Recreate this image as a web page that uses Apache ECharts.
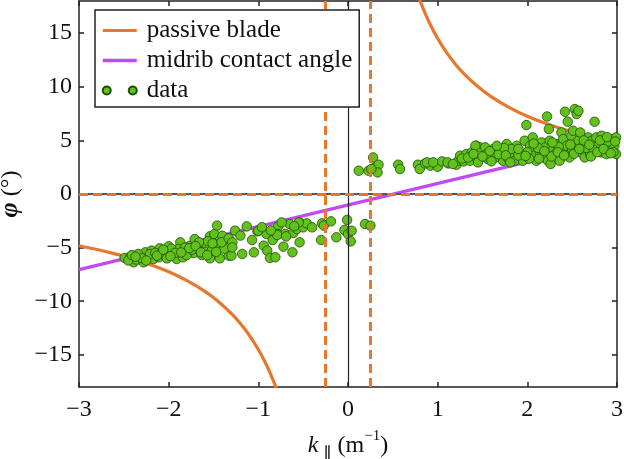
<!DOCTYPE html>
<html>
<head>
<meta charset="utf-8">
<script src="https://cdn.jsdelivr.net/npm/echarts@6/dist/echarts.min.js"></script>
<style>
  html, body { margin: 0; padding: 0; background: #fff; }
  #chart { width: 624px; height: 459px; }
</style>
</head>
<body>
<div id="chart"></div>
<script>
// k_parallel axis ticks and phi ticks
const kTicks = [-3, -2, -1, 0, 1, 2, 3];
const phiTicks = [-15, -10, -5, 0, 5, 10, 15];

// passive blade: two branches
const bladeLower = [
  [-3, -4.83], [-2.8, -5.18], [-2.6, -5.58], [-2.4, -6.04], [-2.2, -6.59],
  [-2.0, -7.25], [-1.8, -8.06], [-1.6, -9.06], [-1.45, -10.0], [-1.3, -11.15],
  [-1.2, -12.08], [-1.1, -13.18], [-1.0, -14.5], [-0.92, -15.76], [-0.85, -17.06],
  [-0.8, -18.1]
];
const bladeUpper = [
  [0.8, 18.1], [0.85, 17.06], [0.92, 15.76], [1.0, 14.5], [1.1, 13.18],
  [1.2, 12.08], [1.3, 11.15], [1.45, 10.0], [1.6, 9.06], [1.8, 8.06],
  [2.0, 7.25], [2.2, 6.59], [2.4, 6.04], [2.6, 5.58], [2.8, 5.18], [3, 4.83]
];
// dashed asymptotes of the passive blade
const bladeAsymptotesK = [-0.25, 0.25];
const bladeAsymptotePhi = 0;

// midrib contact angle (straight line)
const midribLine = [[-3, -7.05], [3, 5.0]];

// measured points
const dataPoints = [
  [-2.49, -5.96], [-2.43, -5.9], [-2.39, -6.37], [-2.36, -6.12], [-2.32, -5.75],
  [-2.28, -6.37], [-2.26, -5.44], [-2.23, -5.9], [-2.19, -5.28], [-2.17, -6.06],
  [-2.1, -5.07], [-2.11, -5.9], [-2.04, -5.75], [-2.0, -4.88], [-1.99, -5.38],
  [-1.95, -5.69], [-1.91, -6.06], [-1.87, -4.51], [-1.89, -5.13], [-1.84, -5.9],
  [-1.79, -5.38], [-1.76, -4.82], [-1.71, -4.2], [-1.72, -5.5], [-1.68, -5.13],
  [-1.63, -5.69], [-1.61, -4.66], [-1.58, -4.98], [-1.54, -3.95], [-1.54, -6.0],
  [-1.5, -4.26], [-1.49, -3.73], [-1.46, -2.95], [-1.43, -6.0], [-1.43, -4.35],
  [-1.48, -4.98], [-1.35, -4.2], [-1.33, -5.75],
  [-2.45, -6.2], [-2.34, -5.6], [-2.3, -6.0], [-2.21, -5.6], [-2.15, -5.5],
  [-2.07, -5.4], [-2.02, -6.0], [-1.97, -5.1], [-1.93, -5.5], [-1.82, -5.0],
  [-1.8, -5.7], [-1.74, -5.2], [-1.66, -4.5], [-1.6, -5.4], [-1.56, -4.4],
  [-1.52, -5.3], [-1.45, -4.7], [-1.4, -3.9], [-1.38, -5.1],
  [-2.41, -5.7], [-2.37, -5.85], [-2.25, -6.2], [-2.13, -5.75], [-2.06, -5.2],
  [-1.98, -5.8], [-1.86, -5.45], [-1.77, -5.05], [-1.7, -4.85], [-1.64, -5.45],
  [-1.57, -5.7], [-1.51, -4.6], [-1.47, -5.4], [-1.41, -4.5],
  [-1.3, -5.75], [-1.18, -5.59], [-1.05, -5.44], [-1.07, -4.29], [-1.01, -3.48],
  [-0.94, -4.82], [-0.9, -5.28], [-0.91, -3.73], [-0.87, -5.96], [-0.81, -5.9],
  [-0.84, -4.29], [-0.78, -3.02], [-0.78, -3.73], [-0.72, -4.91], [-0.7, -3.73],
  [-0.65, -2.8], [-0.62, -5.44], [-0.61, -3.63], [-0.57, -3.26], [-0.54, -4.51],
  [-0.53, -2.7], [-0.5, -3.11], [-0.46, -2.74], [-0.4, -3.11], [-0.3, -4.29],
  [-0.29, -2.74], [-0.27, -2.95], [-0.19, -2.55], [-0.13, -4.04], [-0.04, -3.36],
  [-0.01, -2.42], [0.0, -3.73], [0.04, -3.42], [0.03, -4.42], [0.19, -2.8],
  [0.25, -2.95], [-1.13, -3.02], [-1.26, -3.42], [-1.2, -3.88], [-1.33, -4.14],
  [-1.29, -4.51], [-1.29, -4.98], [-0.74, -2.65], [-0.55, -2.65], [-1.0, -3.42],
  [-0.79, -3.82], [-0.69, -3.95], [-0.96, -3.1], [-0.86, -3.4], [-0.6, -3.0],
  [0.12, 2.17], [0.23, 2.17], [0.28, 3.41], [0.3, 2.48], [0.34, 2.73],
  [0.33, 2.01], [0.26, 2.33], [0.56, 2.73], [0.58, 2.33], [0.78, 2.73],
  [0.8, 2.33], [0.86, 2.85], [0.92, 2.64], [0.99, 2.73], [1.0, 2.54],
  [1.05, 3.04], [1.12, 2.85], [1.21, 2.73], [1.23, 3.1], [1.25, 3.57],
  [1.29, 3.04], [1.32, 3.73], [1.36, 3.1], [1.38, 3.88], [1.4, 3.57],
  [1.45, 3.04], [1.43, 4.5], [0.88, 2.95], [0.95, 2.95], [1.11, 2.95],
  [1.47, 4.35], [1.17, 2.8], [1.27, 3.3], [1.34, 3.4],
  [1.42, 4.5], [1.4, 3.73], [1.45, 2.95], [1.53, 4.35], [1.55, 3.73],
  [1.56, 3.26], [1.62, 4.19], [1.64, 3.41], [1.71, 3.94], [1.73, 3.1],
  [1.77, 4.66], [1.79, 3.26], [1.84, 3.73], [1.86, 3.1], [1.88, 4.5],
  [1.92, 3.88], [1.94, 3.41], [1.95, 3.1], [1.97, 4.97], [1.99, 6.43],
  [2.03, 4.5], [2.05, 4.04], [2.06, 5.28], [2.08, 3.57], [2.1, 3.1],
  [2.14, 3.88], [2.16, 4.81], [2.18, 3.41], [2.2, 4.35], [2.22, 7.23],
  [2.23, 3.1], [2.24, 6.06], [2.25, 4.97], [2.26, 2.8], [2.29, 4.19],
  [2.31, 3.73], [2.33, 4.66], [2.36, 3.1], [2.38, 5.74], [2.4, 5.12],
  [2.42, 7.67], [2.44, 4.04], [2.44, 4.5], [2.45, 6.74], [2.47, 3.41],
  [2.49, 5.43], [2.51, 5.9], [2.53, 7.92], [2.55, 7.46], [2.57, 7.76],
  [2.54, 4.5], [2.57, 4.97], [2.59, 5.74], [2.6, 3.88], [2.62, 4.5],
  [2.64, 3.41], [2.68, 5.28], [2.7, 3.73], [2.72, 4.97], [2.75, 6.74],
  [2.77, 5.28], [2.79, 4.5], [2.82, 3.88], [2.83, 5.43], [2.86, 4.66],
  [2.88, 3.73], [2.92, 5.12], [2.94, 4.19], [2.97, 4.5], [2.99, 3.73],
  [2.99, 5.28],
  [1.58, 4.0], [1.68, 3.7], [1.82, 4.2], [1.9, 3.6], [2.0, 3.9],
  [2.12, 4.3], [2.27, 3.5], [2.35, 4.4], [2.5, 4.2], [2.66, 4.3],
  [2.74, 4.1], [2.9, 4.9], [2.96, 3.9], [1.74, 4.3], [2.02, 3.3],
  [1.5, 3.5], [1.6, 3.05], [1.66, 4.5], [1.76, 3.6], [1.81, 2.95],
  [1.9, 4.2], [1.98, 3.55], [2.07, 4.7], [2.13, 3.3], [2.19, 4.0],
  [2.28, 4.8], [2.34, 3.9], [2.41, 3.6], [2.48, 4.6], [2.52, 3.75],
  [2.58, 4.2], [2.63, 5.0], [2.69, 4.6], [2.71, 3.5], [2.78, 3.9],
  [2.81, 5.0], [2.85, 4.2], [2.89, 5.3], [2.93, 3.8], [2.98, 4.9]
];

const serif = 'Liberation Serif';
const axisColor = '#222';
const orange = '#e8772e';
const purple = '#c04bf2';
const minus = (v) => String(v).replace('-', '\u2212');

const chart = echarts.init(document.getElementById('chart'), null, { renderer: 'canvas' });

const axisLineStyle = { color: axisColor, width: 1.5 };

chart.setOption({
  animation: false,
  backgroundColor: '#fff',
  grid: { left: 79, right: 7, top: 1, bottom: 72, containLabel: false, outerBoundsMode: 'none' },
  legend: {
    orient: 'vertical',
    left: 95,
    top: 10,
    backgroundColor: '#fff',
    borderColor: '#222',
    borderWidth: 1.5,
    borderRadius: 0,
    padding: [8, 7, 4, 6],
    itemWidth: 34,
    itemHeight: 8,
    itemGap: 5,
    z: 10,
    textStyle: { fontFamily: serif, fontSize: 25, color: '#111', padding: [0, 0, 0, 5] },
    data: [
      { name: 'passive blade', itemStyle: { opacity: 0 }, lineStyle: { width: 3, color: orange } },
      { name: 'midrib contact angle', itemStyle: { opacity: 0 }, lineStyle: { width: 3.5, color: purple } },
      {
        name: 'data',
        icon: 'path://M0,4a4,4 0 1,0 8,0a4,4 0 1,0 -8,0M26,4a4,4 0 1,0 8,0a4,4 0 1,0 -8,0'
      }
    ]
  },
  xAxis: [
    {
      type: 'value',
      min: -3,
      max: 3,
      interval: 1,
      axisLine: { onZero: false, lineStyle: axisLineStyle },
      axisTick: { inside: true, length: 5, lineStyle: axisLineStyle },
      splitLine: { show: false },
      axisLabel: {
        margin: 11,
        fontFamily: serif,
        fontSize: 24,
        color: '#111',
        formatter: minus
      },
      name: '{k|k}{sub|\u2225} (m{sup|\u22121})',
      nameLocation: 'middle',
      nameGap: 42,
      nameTextStyle: {
        fontFamily: serif,
        fontSize: 24,
        color: '#111',
        rich: {
          k: { fontFamily: serif, fontSize: 24, fontStyle: 'italic', color: '#111' },
          sub: { fontFamily: serif, fontSize: 18, color: '#111', verticalAlign: 'bottom', lineHeight: 34, padding: [12, 0, 0, 4] },
          sup: { fontFamily: serif, fontSize: 15, color: '#111', verticalAlign: 'top', padding: [0, 0, 10, 0] }
        }
      }
    },
    {
      type: 'value',
      position: 'top',
      min: -3,
      max: 3,
      interval: 1,
      axisLine: { onZero: false, lineStyle: axisLineStyle },
      axisTick: { inside: true, length: 5, lineStyle: axisLineStyle },
      axisLabel: { show: false },
      splitLine: { show: false }
    }
  ],
  yAxis: [
    {
      type: 'value',
      min: -18,
      max: 18,
      axisLine: { onZero: false, lineStyle: axisLineStyle },
      axisTick: { inside: true, length: 5, lineStyle: axisLineStyle, customValues: phiTicks },
      splitLine: { show: false },
      axisLabel: {
        customValues: phiTicks,
        margin: 7,
        fontFamily: serif,
        fontSize: 24,
        color: '#111',
        formatter: minus
      },
      name: '{phi|\u03c6} (\u00b0)',
      nameLocation: 'middle',
      nameRotate: 90,
      nameGap: 52,
      nameTextStyle: {
        fontFamily: serif,
        fontSize: 24,
        color: '#111',
        rich: {
          phi: { fontFamily: serif, fontSize: 26, fontStyle: 'italic', fontWeight: 'bold', color: '#111' }
        }
      }
    },
    {
      type: 'value',
      position: 'right',
      min: -18,
      max: 18,
      axisLine: { onZero: false, lineStyle: axisLineStyle },
      axisTick: { inside: true, length: 5, lineStyle: axisLineStyle, customValues: phiTicks },
      axisLabel: { show: false },
      splitLine: { show: false }
    }
  ],
  series: [
    {
      name: 'zero lines',
      type: 'line',
      data: [],
      z: 1,
      markLine: {
        silent: true,
        symbol: 'none',
        label: { show: false },
        animation: false,
        data: [
          { xAxis: 0, lineStyle: { color: '#222', width: 1.2, type: 'solid' } },
          { yAxis: 0, lineStyle: { color: '#555', width: 2.2, type: 'solid' } }
        ]
      }
    },
    {
      name: 'passive blade',
      type: 'line',
      data: bladeLower,
      symbol: 'none',
      smooth: 0.3,
      lineStyle: { color: orange, width: 3.2 },
      itemStyle: { color: orange },
      z: 2,
      markLine: {
        silent: true,
        symbol: 'none',
        label: { show: false },
        animation: false,
        lineStyle: { color: orange, width: 3, type: [9, 5] },
        data: bladeAsymptotesK.map((k) => ({ xAxis: k })).concat([{ yAxis: bladeAsymptotePhi }])
      }
    },
    {
      name: 'passive blade',
      type: 'line',
      data: bladeUpper,
      symbol: 'none',
      smooth: 0.3,
      lineStyle: { color: orange, width: 3.2 },
      itemStyle: { color: orange },
      z: 2
    },
    {
      name: 'midrib contact angle',
      type: 'line',
      data: midribLine,
      symbol: 'none',
      lineStyle: { color: purple, width: 3.5 },
      itemStyle: { color: purple },
      z: 3
    },
    {
      name: 'data',
      type: 'scatter',
      data: dataPoints,
      symbol: 'circle',
      symbolSize: 9.5,
      itemStyle: { color: '#62c11a', borderColor: '#1f4d0a', borderWidth: 0.8, opacity: 1 },
      z: 4
    }
  ]
});
</script>
</body>
</html>
